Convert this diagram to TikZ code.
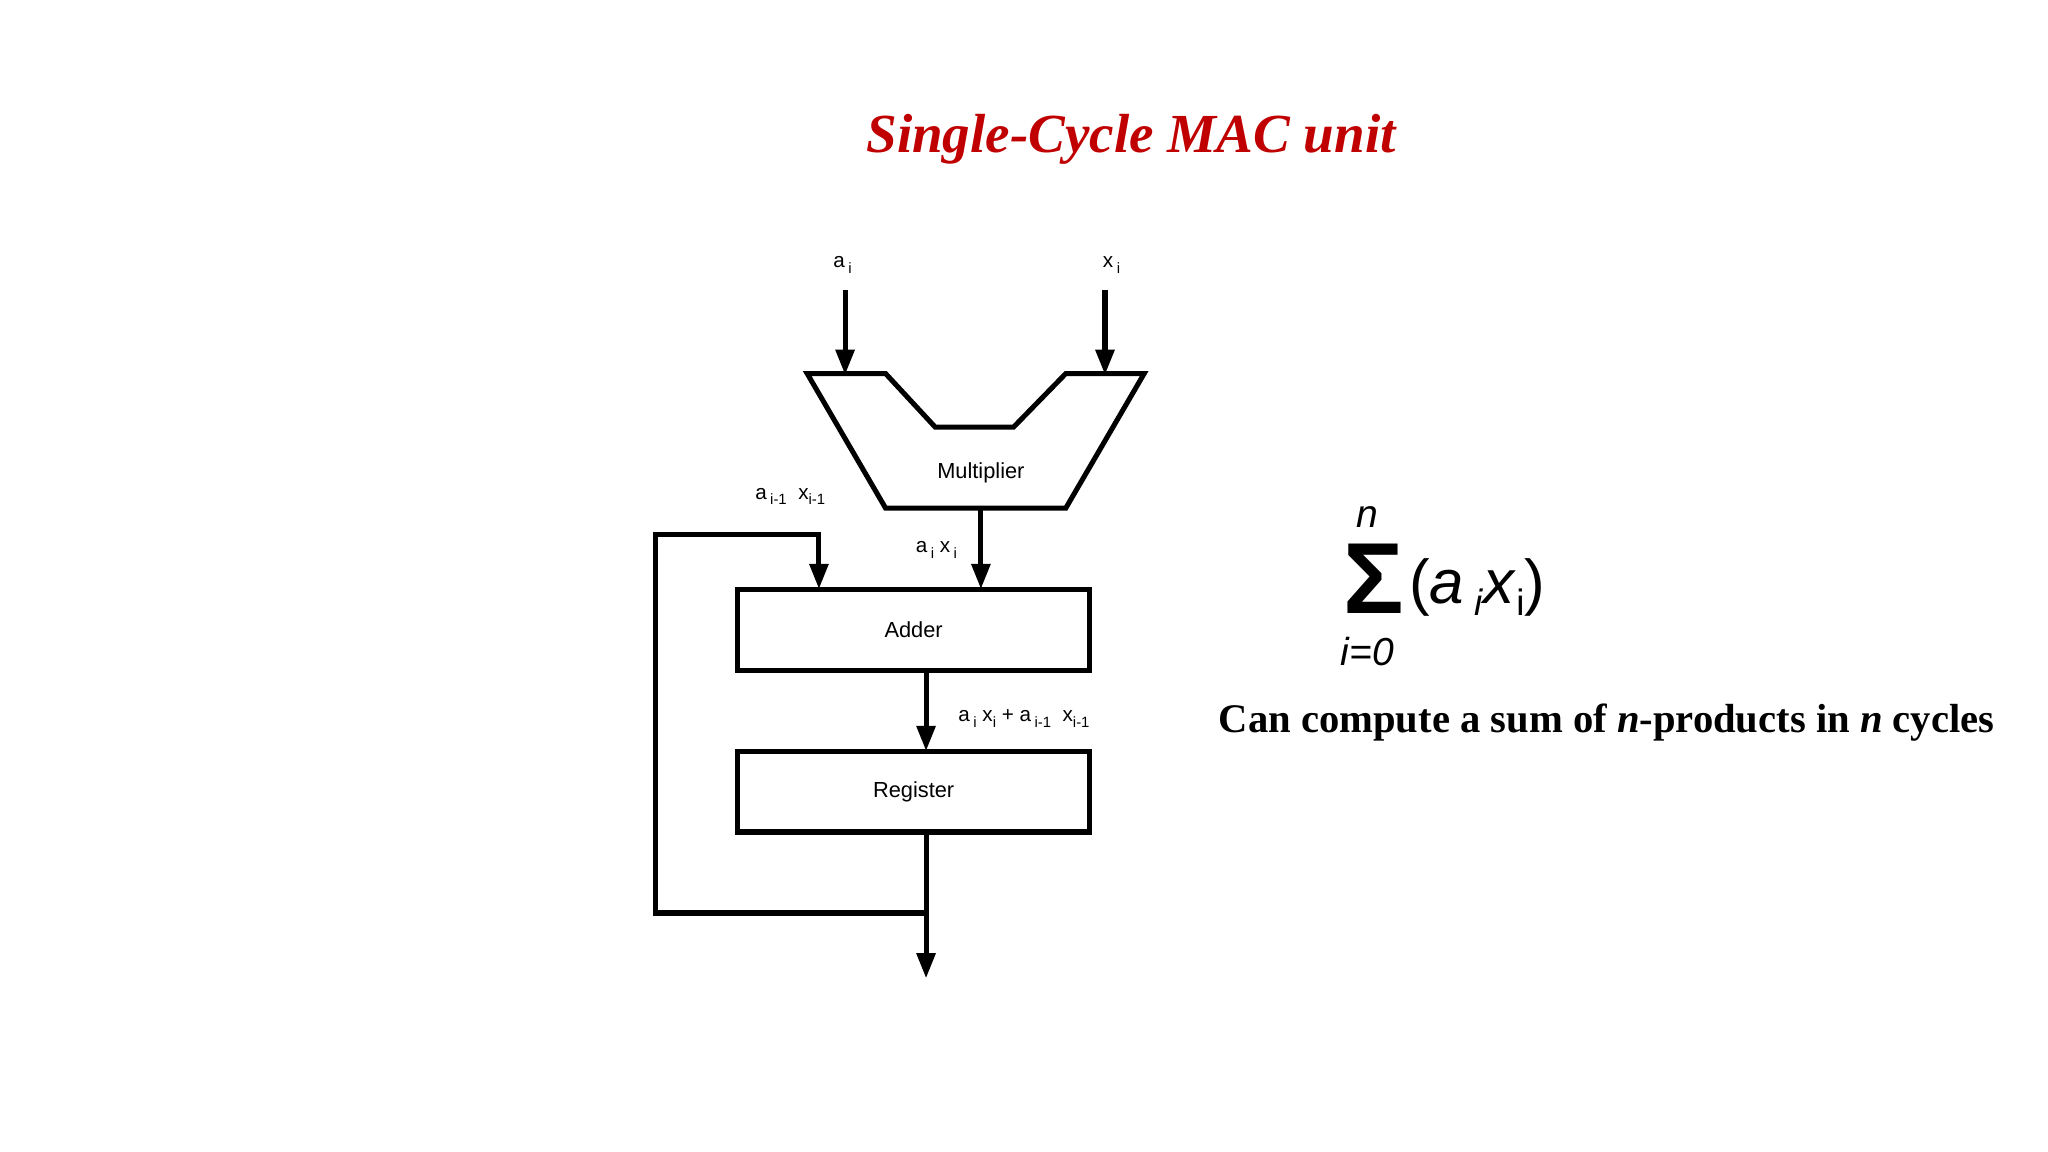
\documentclass[tikz,border=0pt]{standalone}
\usepackage{fontspec}
\setmainfont{Liberation Serif}
\setsansfont{Liberation Sans}
\usetikzlibrary{arrows.meta}
\definecolor{titlered}{HTML}{C00000}
\newcommand\lsub[1]{\raisebox{-0.5ex}{\fontsize{6.5}{6.5}\selectfont #1}}
\begin{document}
\begin{tikzpicture}[x=0.02cm,y=-0.02cm,
  wire/.style={line width=2.2pt},
  arr/.style={wire,-{Triangle[length=11pt,width=8pt]}},
  blk/.style={draw,line width=2.2pt,minimum width=269*0.02cm,minimum height=62*0.02cm,font=\sffamily\fontsize{9.5}{11}\selectfont,inner sep=0pt},
  lbl/.style={font=\sffamily\fontsize{9}{10}\selectfont,inner sep=0pt}]
\useasboundingbox (0,0) rectangle (1568,882);
\node[font=\bfseries\itshape\fontsize{24}{28}\selectfont,text=titlered] (title) at (866,107) {Single-Cycle MAC unit};
% multiplier
\draw[wire,line join=miter] (618,286) -- (678,286) -- (716,327) -- (776,327) -- (816,286) -- (876,286) -- (816,389) -- (678,389) -- cycle;
\node[lbl,font=\sffamily\fontsize{9.5}{11}\selectfont] (mul) at (751,362) {Multiplier};
\coordinate (mulout) at (751,389);
\coordinate (ain) at (647,222); \coordinate (aend) at (647,287);
\coordinate (xin) at (846,222); \coordinate (xend) at (846,287);
\node[lbl] (al) at (645,203) {a\,\lsub{i}};
\node[lbl] (xl) at (851,203) {x\,\lsub{i}};
\draw[arr] (ain) -- (aend);
\draw[arr] (xin) -- (xend);
\node[blk] (adder) at (699.5,482) {Adder};
\node[blk] (reg) at (699.5,606) {Register};
\draw[arr] (mulout) -- (751,451);
\node[lbl] (pl) at (717,421) {a\,\lsub{i} x\,\lsub{i}};
\draw[arr] (709,513) -- (709,575);
\node[lbl] (sl) at (784,550) {a\,\lsub{i} x\lsub{i} + a\,\lsub{i-1}\ \ x\lsub{i-1}};
\coordinate (out) at (709,749);
\draw[arr] (709,637) -- (out);
\coordinate (fb) at (709,699);
\draw[arr,line join=miter] (fb) -- (502,699) -- (502,409) -- (627,409) -- (627,451);
\node[lbl] (fl) at (605,380) {a\,\lsub{i-1}\ \ x\lsub{i-1}};
% formula
\node[font=\sffamily\bfseries\fontsize{44}{44}\selectfont,inner sep=0pt] (sig) at (1052,443) {Σ};
\node[font=\sffamily\itshape\fontsize{17}{17}\selectfont,inner sep=0pt] (n) at (1047,396) {n};
\node[font=\sffamily\itshape\fontsize{17}{17}\selectfont,inner sep=0pt] (i0) at (1047,499) {i=0};
\node[font=\sffamily\fontsize{27}{27}\selectfont,inner sep=0pt] (ax) at (1131,450) {(\textit{a}\,\raisebox{-0.35ex}{\fontsize{16}{16}\selectfont\textit{i}}\textit{x}\raisebox{-0.35ex}{\fontsize{16}{16}\selectfont i})};
\node[font=\bfseries\fontsize{17.7}{20}\selectfont,inner sep=0pt] (cap) at (1230,553) {Can compute a sum of \textit{n}-products in \textit{n} cycles};
\end{tikzpicture}
\end{document}
